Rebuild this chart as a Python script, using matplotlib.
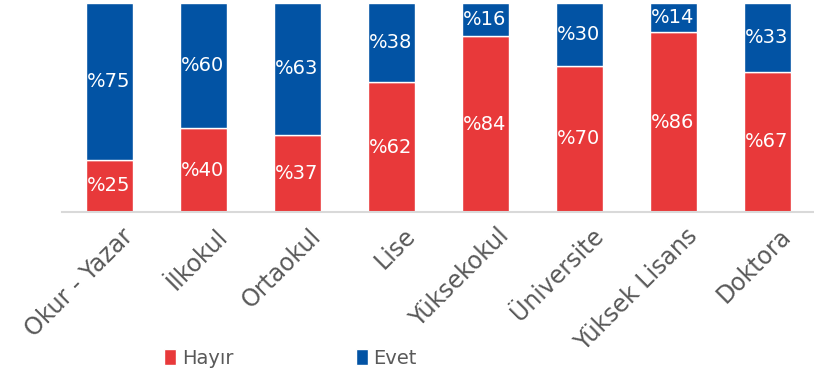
import matplotlib
matplotlib.use("Agg")
import matplotlib.pyplot as plt
import matplotlib.transforms as mtransforms
import numpy as np

categories = ["Okur - Yazar", "İlkokul", "Ortaokul", "Lise", "Yüksekokul",
              "Üniversite", "Yüksek Lisans", "Doktora"]
hayir = [25, 40, 37, 62, 84, 70, 86, 67]
evet = [75, 60, 63, 38, 16, 30, 14, 33]

RED = "#E8393A"
BLUE = "#0253A4"
GRAY = "#595959"

plt.rcParams['font.family'] = ['DejaVu Sans']

fig = plt.figure(figsize=(8.14, 3.78), dpi=100)
ax = fig.add_axes([62/814, 1-212/378, 1-62/814, (212-3)/378])

x = np.arange(len(categories))
b1 = ax.bar(x, hayir, width=0.5, color=RED, edgecolor="white", linewidth=1, label="Hayır")
b2 = ax.bar(x, evet, width=0.5, bottom=hayir, color=BLUE, edgecolor="white", linewidth=1, label="Evet")

for xi, h, e in zip(x, hayir, evet):
    ax.text(xi, h/2, f"%{h}", ha="center", va="center", color="white", fontsize=14)
    ax.text(xi, h + e/2, f"%{e}", ha="center", va="center", color="white", fontsize=14)

ax.set_xlim(-0.5, len(categories) - 0.5)
ax.set_ylim(0, 100)
ax.set_yticks([])
for s in ["top", "right", "left"]:
    ax.spines[s].set_visible(False)
ax.spines["bottom"].set_color("#D9D9D9")
ax.spines["bottom"].set_linewidth(1.5)

ax.set_xticks(x)
ax.set_xticklabels(categories, rotation=45, ha="right", rotation_mode="anchor",
                   fontsize=17, color=GRAY)
ax.tick_params(axis="x", length=0, pad=0)
offset = mtransforms.ScaledTranslation(12/100, -12/100, fig.dpi_scale_trans)
for lab in ax.get_xticklabels():
    lab.set_transform(lab.get_transform() + offset)

leg = fig.legend(handles=[b1, b2], labels=["Hayır", "Evet"], loc="center",
                 bbox_to_anchor=(0.357, 1-358/378), ncol=2, frameon=False,
                 fontsize=14, handlelength=0.6, handleheight=0.9, handletextpad=0.3,
                 columnspacing=6.3, labelcolor=GRAY)

fig.savefig("out.png", dpi=100)
